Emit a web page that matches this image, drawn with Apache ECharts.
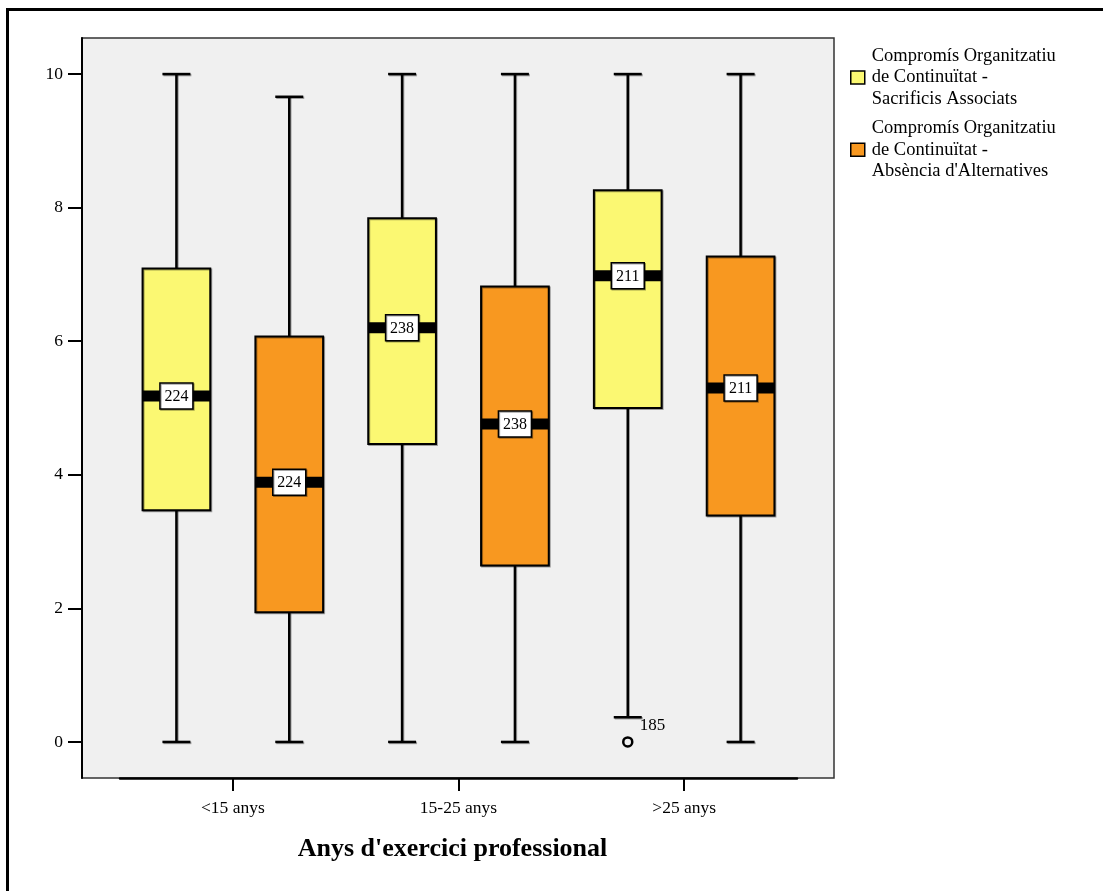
<!DOCTYPE html>
<html>
<head>
<meta charset="utf-8">
<title>Compromís Organitzatiu de Continuïtat</title>
<script src="https://cdn.jsdelivr.net/npm/echarts@6/dist/echarts.min.js"></script>
<style>
  html, body { margin: 0; padding: 0; background: #ffffff; }
  #chart { width: 1103px; height: 891px; }
</style>
</head>
<body>
<div id="chart"></div>
<script>
// Groups of years in the profession
const categories = ['<15 anys', '15-25 anys', '>25 anys'];

// Box statistics per group: [lower whisker, Q1, median, Q3, upper whisker]
const sacrificisStats = [
  [0, 3.47, 5.18, 7.09, 10],
  [0, 4.46, 6.20, 7.84, 10],
  [0.37, 5.00, 6.98, 8.26, 10]
];
const alternativesStats = [
  [0, 1.94, 3.89, 6.07, 9.66],
  [0, 2.64, 4.76, 6.82, 10],
  [0, 3.39, 5.30, 7.27, 10]
];

// Number of cases in each group
const groupCounts = [224, 238, 211];

// Outliers: [group index, value, case id] (Sacrificis Associats series)
const sacrificisOutliers = [[2, 0, 185]];

// Tick labels on the value axis
const yTicks = [0, 2, 4, 6, 8, 10];

const seriesNames = [
  'Compromís Organitzatiu\nde Continuïtat -\nSacrificis Associats',
  'Compromís Organitzatiu\nde Continuïtat -\nAbsència d\'Alternatives'
];
const yellow = '#fbf872';
const orange = '#f89820';
const FONT = '"Liberation Serif", "Times New Roman", serif';
const Y_MIN = -0.54, Y_MAX = 10.54;

function buildRows(stats) {
  return stats.map((s, i) => [i].concat(s, groupCounts[i]));
}

const shadow = { shadowColor: 'rgba(0,0,0,0.35)', shadowOffsetX: 1, shadowOffsetY: 1, shadowBlur: 0 };

function boxRenderer(side, fill) {
  return function (params, api) {
    const cat = api.value(0);
    const band = api.size([1, 0])[0];
    const cx = api.coord([cat, 0])[0] + side * band * 0.25;
    const hw = band * 0.15;
    const capHw = band * 0.062;
    const y = (v) => api.coord([cat, v])[1];
    const yMin = y(api.value(1)), yQ1 = y(api.value(2)), yMed = y(api.value(3));
    const yQ3 = y(api.value(4)), yMax = y(api.value(5));
    const n = api.value(6);
    const ls = Object.assign({ stroke: '#000', lineWidth: 2.5 }, shadow);
    return {
      type: 'group',
      children: [
        { type: 'line', shape: { x1: cx, y1: yMax, x2: cx, y2: yQ3 }, style: ls },
        { type: 'line', shape: { x1: cx, y1: yQ1, x2: cx, y2: yMin }, style: ls },
        { type: 'line', shape: { x1: cx - capHw, y1: yMax, x2: cx + capHw, y2: yMax }, style: ls },
        { type: 'line', shape: { x1: cx - capHw, y1: yMin, x2: cx + capHw, y2: yMin }, style: ls },
        { type: 'rect', shape: { x: cx - hw, y: yQ3, width: hw * 2, height: yQ1 - yQ3 },
          style: Object.assign({ fill: fill, stroke: '#000', lineWidth: 2 }, shadow) },
        { type: 'rect', shape: { x: cx - hw, y: yMed - 5.5, width: hw * 2, height: 11 },
          style: { fill: '#000' } },
        { type: 'rect', shape: { x: cx - 16.5, y: yMed - 13, width: 33, height: 26 },
          style: Object.assign({ fill: '#fff', stroke: '#000', lineWidth: 1.5 }, shadow) },
        { type: 'text', x: cx, y: yMed + 1,
          style: { text: String(n), align: 'center', verticalAlign: 'middle',
                   font: '16px ' + FONT, fill: '#000' } }
      ]
    };
  };
}

function outlierRenderer(side) {
  return function (params, api) {
    const cat = api.value(0);
    const band = api.size([1, 0])[0];
    const p = api.coord([cat, api.value(1)]);
    const cx = p[0] + side * band * 0.25;
    return {
      type: 'group',
      children: [
        { type: 'circle', shape: { cx: cx, cy: p[1], r: 4.5 },
          style: { fill: 'none', stroke: '#000', lineWidth: 2.5 } },
        { type: 'text', x: cx + 12, y: p[1] - 16,
          style: { text: String(api.value(2)), align: 'left', verticalAlign: 'middle',
                   font: '17px ' + FONT, fill: '#000' } }
      ]
    };
  };
}

const chart = echarts.init(document.getElementById('chart'), null, { renderer: 'canvas' });

chart.setOption({
  animation: false,
  backgroundColor: '#ffffff',
  textStyle: { fontFamily: FONT },
  graphic: [
    { type: 'rect', shape: { x: 7.5, y: 9.5, width: 1110, height: 900 },
      style: { fill: 'none', stroke: '#000', lineWidth: 3 }, z: 100 }
  ],
  legend: {
    orient: 'vertical',
    left: 845,
    top: 40,
    itemWidth: 14,
    itemHeight: 13,
    itemGap: 7,
    icon: 'rect',
    selectedMode: false,
    textStyle: { fontFamily: FONT, fontSize: 18.5, color: '#000', lineHeight: 21.7, padding: [0, 0, 0, 2] },
    data: [
      { name: seriesNames[0], itemStyle: { color: yellow, borderColor: '#000', borderWidth: 1.5 } },
      { name: seriesNames[1], itemStyle: { color: orange, borderColor: '#000', borderWidth: 1.5 } }
    ]
  },
  grid: [
    { left: 82, right: 269, top: 38, bottom: 113, show: true,
      backgroundColor: '#f0f0f0', borderColor: '#333', borderWidth: 1.5 },
    { left: 120, right: 306, top: 38, bottom: 113, show: false }
  ],
  xAxis: [
    { type: 'value', gridIndex: 0, show: false, min: 0, max: 1 },
    {
      type: 'category', gridIndex: 1, data: categories,
      axisLine: { show: true, onZero: false, lineStyle: { color: '#000', width: 2.5 } },
      axisTick: { show: true, inside: false, alignWithLabel: true, interval: 0, length: 13,
                  lineStyle: { color: '#000', width: 2 } },
      axisLabel: { fontFamily: FONT, fontSize: 17.5, color: '#000', margin: 21 },
      name: 'Anys d\'exercici professional',
      nameLocation: 'middle',
      nameGap: 58,
      nameTextStyle: { fontFamily: FONT, fontSize: 26, fontWeight: 'bold', color: '#000', padding: [0, 12, 0, 0] }
    }
  ],
  yAxis: [
    {
      type: 'value', gridIndex: 0, min: Y_MIN, max: Y_MAX,
      axisLine: { show: true, lineStyle: { color: '#000', width: 2 } },
      axisTick: { show: true, length: 14, customValues: yTicks, lineStyle: { color: '#000', width: 2 } },
      axisLabel: { customValues: yTicks, fontFamily: FONT, fontSize: 17.5, color: '#000', margin: 19 },
      splitLine: { show: false }
    },
    { type: 'value', gridIndex: 1, min: Y_MIN, max: Y_MAX, show: false, splitLine: { show: false } }
  ],
  series: [
    {
      name: seriesNames[0], type: 'custom', xAxisIndex: 1, yAxisIndex: 1,
      itemStyle: { color: yellow },
      renderItem: boxRenderer(-1, yellow),
      data: buildRows(sacrificisStats),
      clip: false, z: 3
    },
    {
      name: seriesNames[1], type: 'custom', xAxisIndex: 1, yAxisIndex: 1,
      itemStyle: { color: orange },
      renderItem: boxRenderer(1, orange),
      data: buildRows(alternativesStats),
      clip: false, z: 3
    },
    {
      name: 'outliers', type: 'custom', xAxisIndex: 1, yAxisIndex: 1,
      renderItem: outlierRenderer(-1),
      data: sacrificisOutliers,
      clip: false, z: 4
    }
  ]
});
</script>
</body>
</html>
